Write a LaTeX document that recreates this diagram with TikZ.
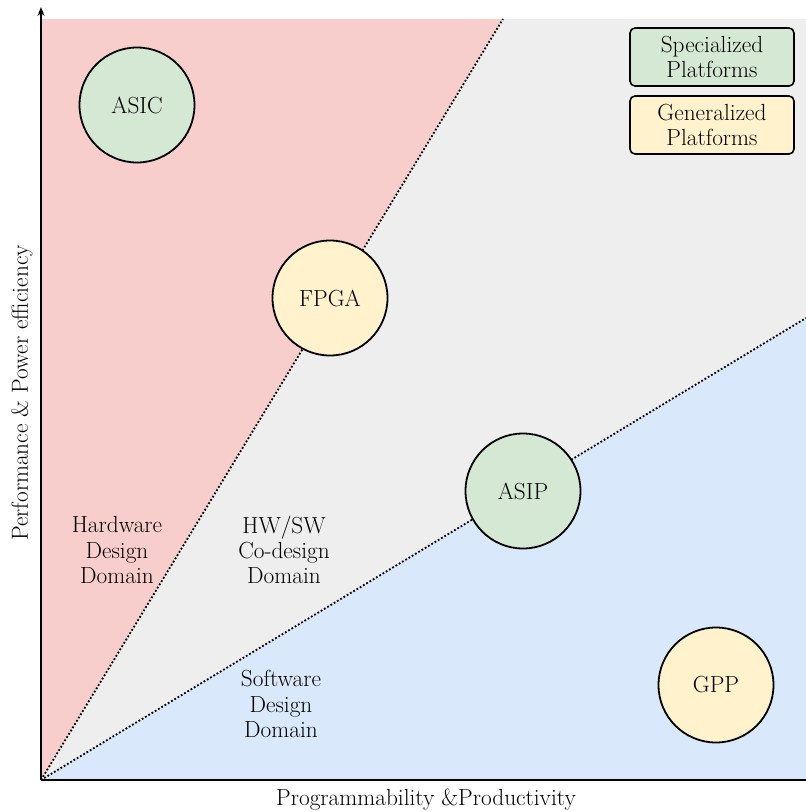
\documentclass[tikz,border=0pt]{standalone}
\usetikzlibrary{arrows.meta}
\definecolor{hwred}{HTML}{F8CECC}
\definecolor{cogray}{HTML}{EEEEEE}
\definecolor{swblue}{HTML}{DAE8FC}
\definecolor{specgreen}{HTML}{D5E8D4}
\definecolor{genyellow}{HTML}{FFF2CC}
\begin{document}
\begin{tikzpicture}[x=1pt,y=-1pt,
  every node/.style={font=\fontsize{23.3}{25.2}\selectfont},
  platform/.style={circle,draw,line width=1.8pt,minimum size=115pt,inner sep=0pt},
  legendbox/.style={draw,line width=1.6pt,rounded corners=5pt,minimum width=164pt,minimum height=58pt,align=center,inner sep=0pt},
  domainlabel/.style={align=center,inner sep=0pt},
  border/.style={dotted,line width=1.8pt},
  axis/.style={line width=2pt}]
\useasboundingbox (0,0) rectangle (806,812);
% key points of the plot
\coordinate (O) at (41,780);
\coordinate (TL) at (41,19);
\coordinate (HWedge) at (503,19);
\coordinate (TR) at (806,19);
\coordinate (SWedge) at (806,318);
\coordinate (BR) at (806,780);
\coordinate (Ytip) at (41,7);
% design domains
\fill[hwred] (O) -- (TL) -- (HWedge) -- cycle;
\fill[cogray] (O) -- (HWedge) -- (TR) -- (SWedge) -- cycle;
\fill[swblue] (O) -- (SWedge) -- (BR) -- cycle;
\draw[border] (O) -- (HWedge);
\draw[border] (O) -- (SWedge);
% axes
\draw[axis,-{Stealth[length=9pt,width=7pt]}] (O) -- (Ytip);
\draw[axis] (O) -- (BR);
\node (xlabel) at (426,800) {Programmability \&Productivity};
\node[rotate=90] (ylabel) at (22,393) {Performance \& Power efficiency};
% platforms
\node[platform,fill=specgreen] (asic) at (137,105) {ASIC};
\node[platform,fill=genyellow] (fpga) at (330,298) {FPGA};
\node[platform,fill=specgreen] (asip) at (523,491) {ASIP};
\node[platform,fill=genyellow] (gpp) at (716,685) {GPP};
% domain labels
\node[domainlabel] (hw) at (117,550) {Hardware\\Design\\Domain};
\node[domainlabel] (cod) at (284,550) {HW/SW\\Co-design\\Domain};
\node[domainlabel] (sw) at (281,704) {Software\\Design\\Domain};
% legend
\node[legendbox,fill=specgreen] (spec) at (712,57) {Specialized\\Platforms};
\node[legendbox,fill=genyellow] (gen) at (712,125) {Generalized\\Platforms};
\end{tikzpicture}
\end{document}
